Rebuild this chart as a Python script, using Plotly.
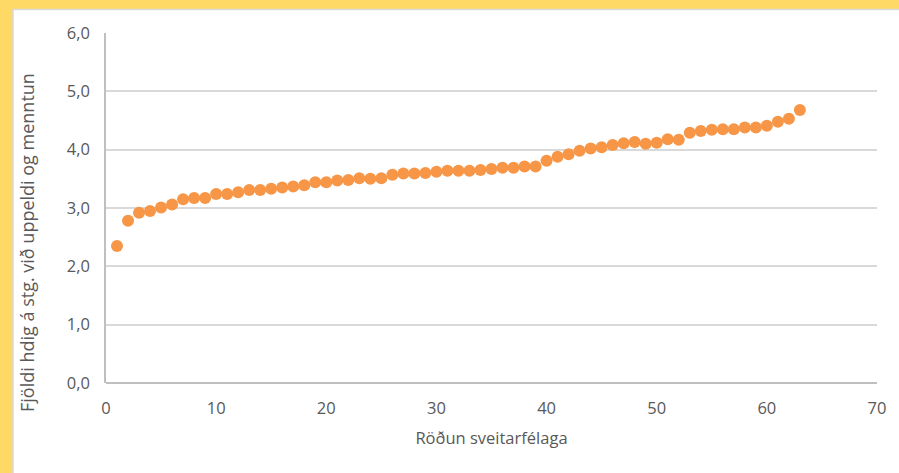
import plotly.graph_objects as go

# Röðun sveitarfélaga (1..63) og fjöldi hdig á stg.
RANK = list(range(1, 64))
VALUES = [
    2.35, 2.78, 2.92, 2.95, 3.01, 3.06, 3.15, 3.17, 3.17, 3.24,
    3.24, 3.27, 3.31, 3.31, 3.33, 3.35, 3.37, 3.39, 3.44, 3.44,
    3.47, 3.48, 3.51, 3.50, 3.51, 3.57, 3.59, 3.59, 3.60, 3.62,
    3.64, 3.64, 3.64, 3.65, 3.67, 3.69, 3.69, 3.71, 3.71, 3.81,
    3.88, 3.92, 3.98, 4.02, 4.04, 4.08, 4.11, 4.13, 4.10, 4.12,
    4.18, 4.17, 4.29, 4.32, 4.34, 4.35, 4.35, 4.38, 4.38, 4.41,
    4.48, 4.53, 4.68,
]

X_TITLE = "Röðun sveitarfélaga"
Y_TITLE = "Fjöldi hdig á stg. við uppeldi og menntun"

ORANGE = "#F79646"
GRID = "#D9D9D9"
TEXT = "#595959"
FONT = "Open Sans, Liberation Sans, sans-serif"

W, H = 899, 473
L, R, T, B = 106, 22, 33, 90
pw, ph = W - L - R, H - T - B


def px_x(p):
    return (p - L) / pw


def px_y(p):
    return (H - B - p) / ph


fig = go.Figure()
fig.add_trace(go.Scatter(
    x=RANK, y=VALUES, mode="markers",
    marker=dict(color=ORANGE, size=12, line=dict(width=0)),
    hovertemplate="%{x}: %{y:.2f}<extra></extra>",
))

# hvítur flötur innan guls ramma
fig.add_shape(type="rect", xref="paper", yref="paper", layer="below",
              x0=px_x(13), x1=px_x(W + 5), y0=px_y(H + 5), y1=px_y(9.5),
              fillcolor="white", line=dict(color=GRID, width=1.5))

# y-ás titill (ekki miðjaður á teiknisvæðið í frumriti)
fig.add_annotation(
    text=Y_TITLE, xref="paper", yref="paper",
    x=px_x(27), y=px_y(243), textangle=-90, showarrow=False,
    xanchor="center", yanchor="middle",
    font=dict(size=18, color=TEXT),
)

fig.update_layout(
    width=W, height=H,
    margin=dict(l=L, r=R, t=T, b=B, autoexpand=False),
    paper_bgcolor="#FFD966",
    plot_bgcolor="rgba(0,0,0,0)",
    separators=",.",
    showlegend=False,
    font=dict(family=FONT, color=TEXT, size=16),
)
fig.update_xaxes(
    range=[0, 70], dtick=10, tick0=0,
    showgrid=False, zeroline=False, showline=False,
    ticks="outside", ticklen=10, tickcolor="rgba(0,0,0,0)",
    tickfont=dict(size=16.5, color=TEXT),
    title=dict(text=X_TITLE, font=dict(size=16.5, color=TEXT), standoff=14),
)
fig.update_yaxes(
    range=[0, 6], dtick=1, tick0=0, tickformat=".1f",
    showgrid=True, gridcolor=GRID, gridwidth=1.5,
    zeroline=True, zerolinecolor="#BFBFBF", zerolinewidth=1.5,
    showline=True, linecolor="#BFBFBF", linewidth=1.5,
    ticks="outside", ticklen=11, tickcolor="rgba(0,0,0,0)",
    tickfont=dict(size=16.5, color=TEXT),
)

fig.write_html("out.html", config={"displayModeBar": False},
               post_script="document.body.style.margin='0';")
